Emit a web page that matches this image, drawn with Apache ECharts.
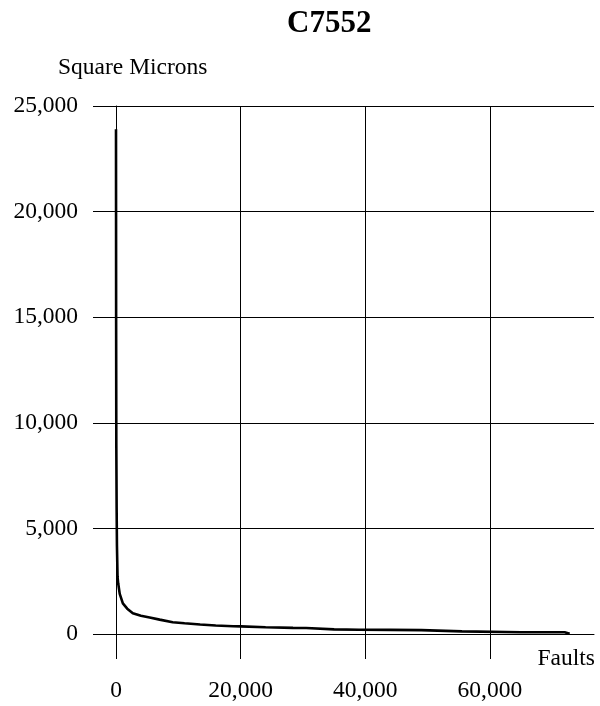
<!DOCTYPE html>
<html>
<head>
<meta charset="utf-8">
<script src="https://cdn.jsdelivr.net/npm/echarts@6/dist/echarts.min.js"></script>
<style>html,body{margin:0;padding:0;background:#fff}#c{width:600px;height:706px}</style>
</head>
<body>
<div id="c"></div>
<script>
// Faults (x) vs area in square microns (y)
const faults = [0, 20, 50, 100, 150, 250, 350, 600, 1100, 1800, 2700, 4000, 5400, 7000, 9100, 11000, 13500, 16000, 18800, 20000, 24000, 28400, 30500, 30700, 35000, 39000, 44000, 49000, 49200, 55500, 55700, 65000, 72000, 72800];
const microns = [23900, 15000, 9000, 6000, 4200, 2700, 2400, 1900, 1450, 1200, 980, 860, 780, 680, 560, 510, 450, 400, 370, 360, 320, 290, 285, 260, 220, 200, 195, 185, 130, 125, 90, 85, 80, 10];
const xTicks = [0, 20000, 40000, 60000];
const yTicks = [0, 5000, 10000, 15000, 20000, 25000];

const fmt = v => v.toLocaleString('en-US');
const FONT = 'Liberation Serif';
const chart = echarts.init(document.getElementById('c'), null, {renderer: 'canvas'});
chart.setOption({
  animation: false,
  backgroundColor: '#fff',
  title: [
    {text: 'C7552', left: 287, top: 8, padding: 0,
     textStyle: {fontFamily: FONT, fontSize: 31, fontWeight: 'bold', color: '#000'}},
    {text: 'Square Microns', left: 58, top: 56, padding: 0,
     textStyle: {fontFamily: FONT, fontSize: 23.5, fontWeight: 'normal', color: '#000'}},
    {text: 'Faults', right: 5, top: 647, padding: 0,
     textStyle: {fontFamily: FONT, fontSize: 23.5, fontWeight: 'normal', color: '#000'}}
  ],
  grid: {left: 116, top: 106, right: 6, bottom: 72, containLabel: false},
  xAxis: {
    type: 'value', min: 0, max: 76700,
    axisLine: {show: true, lineStyle: {color: '#000', width: 1}},
    axisTick: {show: true, inside: false, length: 25, customValues: xTicks, lineStyle: {color: '#000', width: 1}},
    axisLabel: {customValues: xTicks, margin: 45, fontFamily: FONT, fontSize: 23.5, color: '#000', formatter: fmt},
    splitLine: {show: true, lineStyle: {color: '#000', width: 1}}
  },
  yAxis: {
    type: 'value', min: 0, max: 25000, interval: 5000,
    axisLine: {show: true, lineStyle: {color: '#000', width: 1}},
    axisTick: {show: true, inside: false, length: 23, customValues: yTicks, lineStyle: {color: '#000', width: 1}},
    axisLabel: {customValues: yTicks, margin: 38, fontFamily: FONT, fontSize: 23.5, color: '#000', formatter: fmt},
    splitLine: {show: true, lineStyle: {color: '#000', width: 1}}
  },
  series: [{
    type: 'line',
    data: faults.map((f, i) => [f, microns[i]]),
    showSymbol: false,
    lineStyle: {color: '#000', width: 2.6},
    clip: true
  }]
});
</script>
</body>
</html>
